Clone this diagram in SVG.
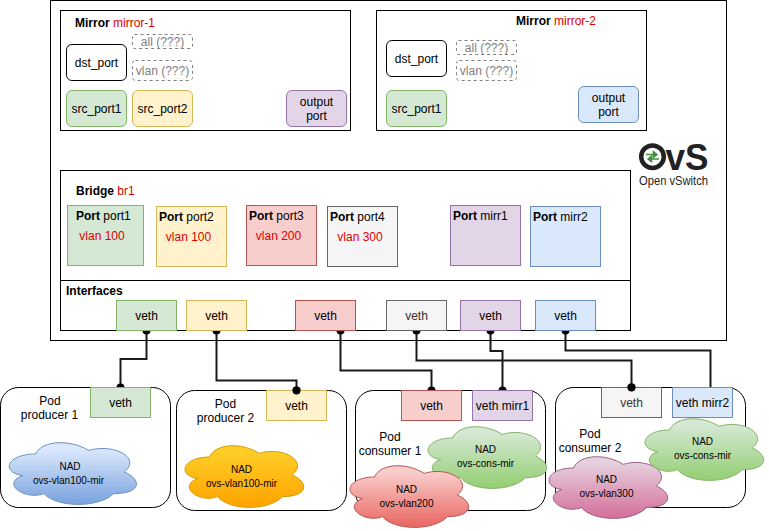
<svg xmlns="http://www.w3.org/2000/svg" xmlns:xlink="http://www.w3.org/1999/xlink" width="769" height="531" viewBox="0 0 769 531">
<style>
text{font-family:"Liberation Sans",Arial,sans-serif;font-size:12px;fill:#000;text-anchor:middle}
.b{font-weight:bold}.r{fill:#e00000}.s{text-anchor:start}.g{fill:#808080}.d{fill:#333}
.n{font-size:10px}
rect{stroke-width:1}
.box{fill:#fff;stroke:#000}
.gr{fill:#d5e8d4;stroke:#82b366}.ye{fill:#fff2cc;stroke:#d6b656}.re{fill:#f8cecc;stroke:#b85450}
.gy{fill:#f5f5f5;stroke:#666}.pu{fill:#e1d5e7;stroke:#9673a6}.bl{fill:#dae8fc;stroke:#6c8ebf}
.dash{fill:#fff;stroke:#808080;stroke-dasharray:3 3}
.conn{fill:none;stroke:#1a1a1a;stroke-width:2;marker-start:url(#dot);marker-end:url(#dot)}
.noend{marker-end:none}
.cl{stroke-width:1}
</style>
<defs>
<marker id="dot" markerUnits="userSpaceOnUse" markerWidth="10" markerHeight="10" refX="5" refY="5" orient="auto"><circle cx="5" cy="5" r="4" fill="#000"/></marker>
<linearGradient id="gBlue" x1="0" y1="0" x2="0" y2="1"><stop offset="0.1" stop-color="#dae8fc"/><stop offset="0.95" stop-color="#7ea6e0"/></linearGradient>
<linearGradient id="gOrange" x1="0" y1="0" x2="0" y2="1"><stop offset="0.1" stop-color="#ffcd28"/><stop offset="0.95" stop-color="#ffa500"/></linearGradient>
<linearGradient id="gGreen" x1="0" y1="0" x2="0" y2="1"><stop offset="0.1" stop-color="#d5e8d4"/><stop offset="0.95" stop-color="#97d077"/></linearGradient>
<linearGradient id="gRed" x1="0" y1="0" x2="0" y2="1"><stop offset="0.1" stop-color="#f8cecc"/><stop offset="0.95" stop-color="#ea6b66"/></linearGradient>
<linearGradient id="gPink" x1="0" y1="0" x2="0" y2="1"><stop offset="0.1" stop-color="#e6d0de"/><stop offset="0.95" stop-color="#d5739d"/></linearGradient>
<path id="cloud" vector-effect="non-scaling-stroke" d="M.25 .25C.05 .25 0 .5 .16 .55C0 .66 .18 .9 .31 .8C.4 1 .7 1 .8 .8C1 .8 1 .6 .875 .5C1 .3 .8 .1 .625 .2C.5 .05 .3 .05 .25 .25Z"/>
</defs>

<g id="ovs"><rect x="50.5" y="0.5" width="676" height="340" class="box"/></g>

<g id="mirror-1">
<rect x="60.5" y="10.5" width="290" height="120" class="box"/>
<text x="75" y="27" class="s"><tspan class="b">Mirror</tspan> <tspan class="r">mirror-1</tspan></text>
<rect x="66.5" y="44.5" width="60" height="36" rx="5.4" class="box"/><text x="96.5" y="67">dst_port</text>
<rect x="132.5" y="34.5" width="60" height="14" rx="2" class="dash"/><text x="162.5" y="46" class="g">all (???)</text>
<rect x="132.5" y="60.5" width="60" height="20" rx="3" class="dash"/><text x="162.5" y="75" class="g">vlan (???)</text>
<rect x="66.5" y="90.5" width="60" height="36" rx="5.4" class="gr"/><text x="96.5" y="113">src_port1</text>
<rect x="132.5" y="90.5" width="60" height="36" rx="5.4" class="ye"/><text x="162.5" y="113">src_port2</text>
<rect x="286.5" y="90.5" width="60" height="36" rx="5.4" class="pu"/><text x="316.5" y="106">output</text><text x="316.5" y="120">port</text>
</g>

<g id="mirror-2">
<rect x="376.5" y="10.5" width="270" height="120" class="box"/>
<text x="516" y="25" class="s"><tspan class="b">Mirror</tspan> <tspan class="r">mirror-2</tspan></text>
<rect x="386.5" y="40.5" width="60" height="36" rx="5.4" class="box"/><text x="416.5" y="63">dst_port</text>
<rect x="456.5" y="40.5" width="60" height="14" rx="2" class="dash"/><text x="486.5" y="52" class="g">all (???)</text>
<rect x="456.5" y="60.5" width="60" height="20" rx="3" class="dash"/><text x="486.5" y="75" class="g">vlan (???)</text>
<rect x="386.5" y="90.5" width="60" height="36" rx="5.4" class="gr"/><text x="416.5" y="113">src_port1</text>
<rect x="578.5" y="86.5" width="60" height="36" rx="5.4" class="bl"/><text x="608.5" y="102">output</text><text x="608.5" y="116">port</text>
</g>

<g id="ovs-logo">
<circle cx="652.500" cy="156.700" r="11.300" fill="#fff" stroke="#222" stroke-width="4.500"/>
<path d="M646 154.500H657M657 154.500l-3.500-2.800v5.600ZM659 159H648M648 159l3.500-2.800v5.600Z" fill="#3f8f3f" stroke="#3f8f3f" stroke-width="1.500"/>
<text x="665.500" y="170" class="s b" style="font-size:36px;fill:#222" textLength="43" lengthAdjust="spacingAndGlyphs">vS</text>
<text x="673.500" y="184.500" style="font-size:12px;fill:#222" textLength="69" lengthAdjust="spacingAndGlyphs">Open vSwitch</text>
</g>

<g id="bridge">
<rect x="60.5" y="170.5" width="570" height="160" class="box"/>
<path d="M60.5 280.5H630.5" stroke="#000" fill="none"/>
<text x="76" y="195" class="s"><tspan class="b">Bridge</tspan> <tspan class="r">br1</tspan></text>
<text x="66" y="295" class="s b">Interfaces</text>
</g>

<g id="port1"><rect x="67.5" y="205.5" width="76" height="60" class="gr"/><text x="76" y="220" class="s"><tspan class="b">Port</tspan> port1</text><text x="102" y="240" class="r">vlan 100</text></g>
<g id="port2"><rect x="156.5" y="206.5" width="70" height="60" class="ye"/><text x="159" y="221" class="s"><tspan class="b">Port</tspan> port2</text><text x="188.500" y="241" class="r">vlan 100</text></g>
<g id="port3"><rect x="246.5" y="205.5" width="70" height="60" class="re"/><text x="249" y="220" class="s"><tspan class="b">Port</tspan> port3</text><text x="278.500" y="240" class="r">vlan 200</text></g>
<g id="port4"><rect x="327.5" y="206.500" width="70" height="60" class="gy"/><text x="330" y="221" class="s"><tspan class="b">Port</tspan> port4</text><text x="360" y="241" class="r">vlan 300</text></g>
<g id="mirr1"><rect x="450.5" y="205.5" width="70" height="60" class="pu"/><text x="453" y="220" class="s"><tspan class="b">Port</tspan> mirr1</text></g>
<g id="mirr2"><rect x="530.5" y="206.5" width="70" height="60" class="bl"/><text x="533" y="221" class="s"><tspan class="b">Port</tspan> mirr2</text></g>

<g id="pod-producer-1"><rect x="0.5" y="387.5" width="170" height="120" rx="18" class="box"/><text x="50" y="405">Pod</text><text x="49.500" y="419">producer 1</text></g>
<g id="pod-producer-2"><rect x="176.5" y="390.5" width="170" height="120" rx="18" class="box"/><text x="225.500" y="408">Pod</text><text x="225.500" y="422">producer 2</text></g>
<g id="pod-consumer-1"><rect x="355.500" y="390.5" width="190" height="120" rx="18" class="box"/><text x="390" y="441">Pod</text><text x="390" y="455">consumer 1</text></g>
<g id="pod-consumer-2"><rect x="555.500" y="387.5" width="190" height="120" rx="18" class="box"/><text x="590" y="438">Pod</text><text x="590" y="452">consumer 2</text></g>

<g id="connectors">
<path class="conn" d="M146.500 330.500V359H120.500V387.500"/>
<path class="conn" d="M216.500 330.500V380.500H296.500V390.500"/>
<path class="conn" d="M340.500 330.500V370.500H431.500V390.500"/>
<path class="conn" d="M416.500 330.500V360.500H631.500V387.500"/>
<path class="conn" d="M490.500 330.500V351H502.500V390.500"/>
<path class="conn noend" d="M565.500 330.500V350.500H710.500V387.500"/>
</g>

<g id="if-veth1"><rect x="116.5" y="300.5" width="60" height="30" class="gr"/><text x="146.5" y="320">veth</text></g>
<g id="if-veth2"><rect x="186.5" y="300.5" width="60" height="30" class="ye"/><text x="216.5" y="320">veth</text></g>
<g id="if-veth3"><rect x="295.5" y="300.5" width="60" height="30" class="re"/><text x="325.5" y="320">veth</text></g>
<g id="if-veth4"><rect x="386.5" y="300.5" width="60" height="30" class="gy"/><text x="416.5" y="320" class="d">veth</text></g>
<g id="if-veth5"><rect x="460.5" y="300.5" width="60" height="30" class="pu"/><text x="490.5" y="320">veth</text></g>
<g id="if-veth6"><rect x="535.5" y="300.5" width="60" height="30" class="bl"/><text x="565.5" y="320">veth</text></g>

<g id="pod1-veth"><rect x="90.5" y="387.5" width="60" height="30" class="gr"/><text x="120.5" y="407">veth</text></g>
<g id="pod2-veth"><rect x="266.5" y="390.5" width="60" height="30" class="ye"/><text x="296.5" y="410">veth</text><circle cx="296.5" cy="390.5" r="4"/></g>
<g id="pod3-veth"><rect x="401.5" y="390.5" width="60" height="30" class="re"/><text x="431.5" y="410">veth</text></g>
<g id="pod3-mirr1"><rect x="472.5" y="390.5" width="60" height="30" class="pu"/><text x="502.5" y="410">veth mirr1</text></g>
<g id="pod4-veth"><rect x="601.5" y="387.5" width="60" height="30" class="gy"/><text x="631.5" y="407" class="d">veth</text><circle cx="631.5" cy="387.5" r="4"/></g>
<g id="pod4-mirr2"><rect x="672.5" y="387.5" width="60" height="30" class="bl"/><text x="702.5" y="407">veth mirr2</text></g>

<g id="nad1"><use xlink:href="#cloud" class="cl" fill="url(#gBlue)" stroke="#6c8ebf" transform="translate(0 436) scale(142 72)"/><text x="70" y="470" class="n">NAD</text><text x="68.500" y="484" class="n">ovs-vlan100-mir</text></g>
<g id="nad2"><use xlink:href="#cloud" class="cl" fill="url(#gOrange)" stroke="#d79b00" transform="translate(176.400 439) scale(132.500 72)"/><text x="241.500" y="473" class="n">NAD</text><text x="241.500" y="487" class="n">ovs-vlan100-mir</text></g>
<g id="nad3"><use xlink:href="#cloud" class="cl" fill="url(#gGreen)" stroke="#82b366" transform="translate(419.400 420) scale(132.500 72)"/><text x="485.500" y="453" class="n">NAD</text><text x="485.500" y="467" class="n">ovs-cons-mir</text></g>
<g id="nad4"><use xlink:href="#cloud" class="cl" fill="url(#gRed)" stroke="#b85450" transform="translate(341.400 459) scale(132.500 72)"/><text x="406.500" y="493" class="n">NAD</text><text x="406.500" y="507" class="n">ovs-vlan200</text></g>
<g id="nad5"><use xlink:href="#cloud" class="cl" fill="url(#gPink)" stroke="#996185" transform="translate(540.400 450) scale(132.500 72)"/><text x="606.500" y="483" class="n">NAD</text><text x="606.500" y="497" class="n">ovs-vlan300</text></g>
<g id="nad6"><use xlink:href="#cloud" class="cl" fill="url(#gGreen)" stroke="#82b366" transform="translate(636.400 412) scale(132.500 72)"/><text x="702.500" y="445" class="n">NAD</text><text x="702.500" y="459" class="n">ovs-cons-mir</text></g>
</svg>
